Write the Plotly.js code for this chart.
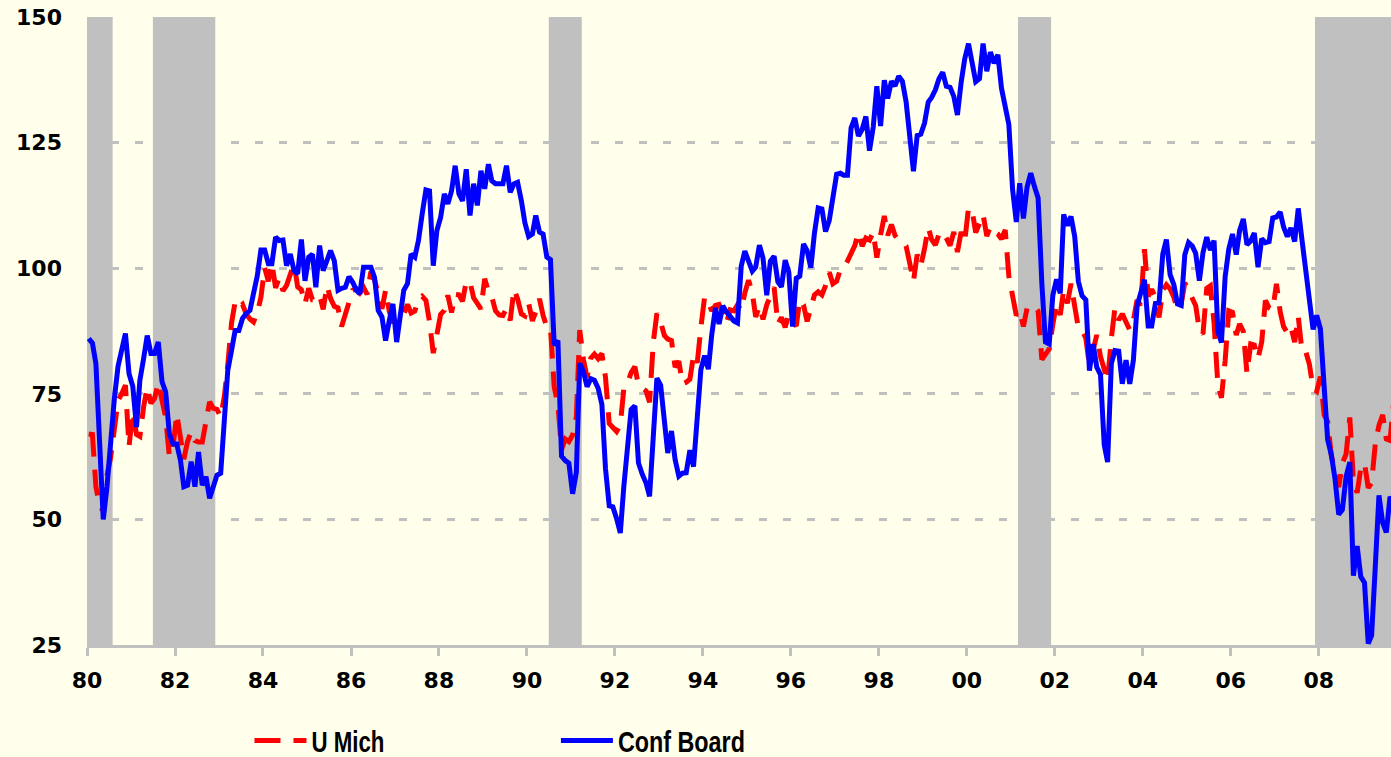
<!DOCTYPE html>
<html>
<head>
<meta charset="utf-8">
<script src="https://cdn.plot.ly/plotly-3.0.1.min.js"></script>
<style>
  html, body { margin: 0; padding: 0; background: #FFFFEB; }
  #chart { width: 1391px; height: 757px; }
</style>
</head>
<body>
<div id="chart"></div>
<script>
// ---------------- DATA ----------------
const startYear = 1980;   // first month of both series: Jan 1980 (monthly data)

// University of Michigan consumer sentiment, monthly
const uMich80s = [
  67.0, 66.9, 56.5, 52.7, 51.7, 58.7, 62.3, 67.3, 73.7, 75.0, 76.7, 64.5,
  71.4, 66.9, 66.5, 72.4, 76.3, 73.1, 74.1, 77.2, 73.1, 70.3, 62.5, 64.3,
  71.0, 66.5, 62.0, 65.5, 67.5, 65.7, 65.4, 65.4, 69.3, 73.4, 72.1, 71.9,
  70.4, 74.6, 80.8, 89.1, 93.3, 92.2, 92.8, 90.9, 89.9, 89.3, 91.1, 94.2,
  100.1, 97.4, 101.0, 96.1, 98.1, 95.5, 96.6, 99.1, 100.9, 96.3, 95.7, 92.9,
  96.0, 93.7, 93.7, 94.6, 91.8, 96.5, 94.0, 92.4, 92.1, 88.4, 90.9, 93.9,
  95.6, 95.9, 95.1, 96.2, 94.8, 99.3, 97.7, 94.9, 91.9, 95.6, 91.4, 89.1,
  90.4, 90.2, 90.8, 92.8, 91.1, 91.5, 93.7, 94.4, 93.6, 89.3, 83.1, 86.8,
  90.8, 91.6, 94.6, 91.2, 94.8, 94.7, 93.4, 97.4, 97.3, 94.1, 93.0, 91.9,
  97.9, 95.4, 94.3, 91.5, 90.7, 90.6, 92.0, 89.6, 95.8, 93.9, 90.9, 90.5
];
const uMich90s = [
  93.0, 89.5, 91.3, 93.9, 90.6, 88.3, 88.2, 76.4, 72.8, 63.9, 66.0, 65.5,
  66.8, 70.4, 87.7, 81.8, 78.3, 82.1, 82.9, 82.0, 83.0, 78.3, 69.1, 68.2,
  67.5, 68.8, 76.0, 77.2, 79.2, 80.4, 76.6, 76.1, 75.6, 73.3, 85.3, 91.0,
  89.3, 86.6, 85.9, 85.6, 80.3, 81.5, 77.0, 77.3, 77.9, 82.7, 81.2, 88.2,
  94.3, 93.2, 91.5, 92.6, 92.8, 91.2, 89.0, 91.7, 91.5, 92.7, 91.6, 95.1,
  97.6, 95.1, 90.3, 92.5, 89.8, 92.7, 94.4, 96.2, 88.9, 90.2, 88.2, 91.0,
  89.3, 88.5, 93.7, 92.7, 89.4, 92.4, 94.7, 95.3, 94.7, 96.5, 99.2, 96.9,
  97.4, 99.7, 100.0, 101.4, 103.2, 104.5, 107.1, 104.4, 106.0, 105.6, 107.2, 102.1,
  106.6, 110.4, 106.5, 108.7, 106.5, 105.6, 105.2, 104.4, 100.9, 97.4, 102.7, 100.5,
  103.9, 108.1, 105.7, 104.6, 106.8, 107.3, 106.0, 104.5, 107.2, 103.2, 107.2, 105.4
];
const uMich00s = [
  112.0, 111.3, 107.1, 109.2, 110.7, 106.4, 108.3, 107.3, 106.8, 105.8, 107.6, 98.4,
  94.7, 90.6, 91.5, 88.4, 92.0, 92.6, 92.4, 91.5, 81.8, 82.7, 83.9, 88.8,
  93.0, 90.7, 95.7, 93.0, 96.9, 92.4, 88.1, 87.6, 86.1, 80.6, 84.2, 86.7,
  82.4, 79.9, 77.6, 86.0, 92.1, 89.7, 90.9, 89.3, 87.7, 89.6, 93.7, 92.6,
  103.8, 94.4, 95.8, 94.2, 90.2, 95.6, 96.7, 95.9, 94.2, 91.7, 92.8, 97.1,
  95.5, 94.1, 92.6, 87.7, 86.9, 96.0, 96.5, 89.1, 76.9, 74.2, 81.6, 91.5,
  91.2, 86.7, 88.9, 87.4, 79.1, 84.9, 84.7, 82.0, 85.4, 93.6, 92.1, 91.7,
  96.9, 91.3, 88.4, 87.1, 88.3, 85.3, 90.4, 83.4, 83.4, 80.9, 76.1, 75.5,
  78.4, 70.8, 69.5, 62.6, 59.8, 56.4, 61.2, 63.0, 70.3, 57.6, 55.3, 60.1,
  61.2, 56.3, 57.3, 65.1, 68.7, 70.8, 66.0, 65.7, 73.5
];

// Conference Board consumer confidence, monthly
const confBoard80s = [
  86.0, 85.1, 81.0, 65.0, 50.0, 56.5, 66.0, 74.0, 80.5, 84.0, 87.0, 79.0,
  76.5, 68.4, 77.7, 82.0, 86.6, 83.0, 83.0, 85.3, 77.4, 75.4, 67.0, 65.0,
  65.0, 61.8, 56.5, 56.8, 61.5, 56.5, 63.4, 56.8, 58.5, 54.2, 56.5, 58.8,
  59.2, 70.4, 79.7, 83.6, 87.6, 87.6, 90.0, 91.0, 91.6, 95.0, 98.5, 103.6,
  103.6, 100.9, 100.9, 106.2, 105.5, 105.6, 100.5, 102.8, 99.5, 98.9, 105.7, 97.5,
  102.2, 102.8, 96.2, 104.5, 99.5, 101.5, 103.5, 101.5, 95.6, 96.0, 96.2, 98.3,
  97.2, 95.6, 94.9, 100.2, 100.2, 100.2, 98.2, 91.6, 90.3, 85.6, 89.6, 92.9,
  85.3, 90.9, 95.6, 96.9, 102.8, 102.2, 105.5, 110.8, 115.6, 115.4, 100.5, 107.5,
  110.1, 114.8, 112.8, 115.4, 120.4, 114.8, 113.4, 119.7, 110.5, 116.8, 112.5, 119.4,
  115.8, 120.7, 117.4, 116.8, 116.8, 116.8, 120.4, 115.1, 116.8, 117.1, 113.5, 109.0
];
const confBoard90s = [
  106.3, 106.8, 110.5, 107.2, 106.8, 102.2, 101.7, 84.7, 85.6, 62.6, 61.7, 61.2,
  55.1, 59.4, 81.1, 79.4, 76.4, 78.0, 77.7, 76.1, 72.9, 60.1, 52.7, 52.5,
  50.2, 47.3, 56.5, 65.1, 71.9, 72.6, 61.2, 59.0, 57.3, 54.6, 65.6, 78.1,
  76.7, 68.5, 63.2, 67.6, 61.9, 58.6, 59.2, 59.3, 63.8, 60.5, 71.9, 79.8,
  82.6, 79.9, 86.7, 92.1, 88.9, 92.5, 91.3, 90.4, 89.5, 89.1, 100.4, 103.4,
  101.4, 99.4, 100.2, 104.6, 102.0, 94.6, 101.4, 102.4, 97.3, 96.3, 101.6, 99.2,
  88.4, 98.0, 98.4, 104.8, 103.5, 100.1, 107.0, 112.0, 111.8, 107.3, 109.5, 114.2,
  118.7, 118.9, 118.5, 118.5, 127.9, 129.9, 126.3, 127.6, 130.2, 123.4, 128.1, 136.2,
  128.3, 137.4, 133.8, 137.2, 136.3, 138.2, 137.2, 133.1, 126.4, 119.3, 126.4, 126.7,
  128.9, 133.1, 134.0, 135.5, 137.7, 139.0, 136.2, 136.0, 134.2, 130.5, 137.0, 141.7
];
const confBoard00s = [
  144.7, 140.8, 137.1, 137.7, 144.7, 139.2, 143.0, 140.8, 142.5, 135.8, 132.6, 128.6,
  115.7, 109.2, 116.9, 109.9, 116.1, 118.9, 116.3, 114.0, 97.0, 85.3, 84.9, 94.6,
  97.8, 95.0, 110.7, 108.5, 110.3, 106.3, 97.4, 94.5, 93.7, 79.6, 84.9, 80.3,
  78.8, 64.8, 61.4, 81.0, 83.6, 83.5, 77.0, 81.7, 77.0, 81.7, 92.5, 94.8,
  97.7, 88.5, 88.5, 93.0, 93.1, 102.8, 105.7, 98.7, 96.7, 92.9, 92.6, 102.7,
  105.1, 104.4, 103.0, 97.5, 103.1, 106.2, 103.6, 105.5, 87.5, 85.2, 98.3, 103.8,
  106.8, 102.7, 107.5, 109.8, 104.7, 105.4, 107.0, 100.2, 105.9, 105.1, 105.3, 110.0,
  110.2, 111.2, 108.2, 106.3, 108.0, 105.3, 111.9, 105.6, 99.5, 95.2, 87.8, 90.6,
  87.9, 76.4, 65.9, 62.8, 58.1, 51.0, 51.9, 58.5, 61.4, 38.8, 44.7, 38.6,
  37.4, 25.3, 26.9, 40.8, 54.8, 49.3, 47.4, 54.5, 53.4
];

// NBER recessions (first month, last month) shown as grey bands
const recessions = [
  ['1980-01', '1980-07'],
  ['1981-07', '1982-11'],
  ['1990-07', '1991-03'],
  ['2001-03', '2001-11'],
  ['2007-12', '2009-09']
];

const seriesNames = ['U Mich', 'Conf Board'];
const yTicks = [25, 50, 75, 100, 125, 150];

// ---------------- BUILD ----------------
const uMich = uMich80s.concat(uMich90s, uMich00s);
const confBoard = confBoard80s.concat(confBoard90s, confBoard00s);

function pad(n) { return (n < 10 ? '0' : '') + n; }
function monthDates(count) {
  const out = [];
  for (let i = 0; i < count; i++) {
    const y = startYear + Math.floor(i / 12);
    const m = (i % 12) + 1;
    out.push(y + '-' + pad(m) + '-15');   // plotted mid-month
  }
  return out;
}
function nextMonthStart(ym) {
  let y = +ym.slice(0, 4), m = +ym.slice(5, 7) + 1;
  if (m > 12) { m = 1; y += 1; }
  return y + '-' + pad(m) + '-01';
}

const tickFont = { family: 'DejaVu Sans, Verdana, sans-serif', size: 22, color: '#000000', weight: 'bold' };
const legendFont = { family: 'Liberation Sans, Arial, sans-serif', size: 30, color: '#000000', weight: 'bold' };

const traces = [
  {
    type: 'scatter', mode: 'lines', name: seriesNames[0],
    x: monthDates(uMich.length), y: uMich,
    line: { color: '#FF0000', width: 5, dash: '26px,13px' },
    legend: 'legend',
    hoverinfo: 'skip'
  },
  {
    type: 'scatter', mode: 'lines', name: seriesNames[1],
    x: monthDates(confBoard.length), y: confBoard,
    line: { color: '#0000FF', width: 5 },
    legend: 'legend2',
    hoverinfo: 'skip'
  }
];

const shapes = recessions.map(r => ({
  type: 'rect', xref: 'x', yref: 'paper',
  x0: r[0] + '-01', x1: nextMonthStart(r[1]), y0: 0, y1: 1,
  fillcolor: '#C0C0C0', line: { width: 0 }, layer: 'below'
}));

function legendAt(xFrac) {
  return {
    orientation: 'h',
    x: xFrac, xanchor: 'left',
    y: -0.152, yanchor: 'middle',
    bgcolor: 'rgba(0,0,0,0)',
    borderwidth: 0,
    itemwidth: 52,
    font: legendFont
  };
}

const layout = {
  width: 1391, height: 757,
  margin: { l: 87, r: 0, t: 17, b: 112, autoexpand: false },
  paper_bgcolor: '#FFFFEB',
  plot_bgcolor: '#FFFFEB',
  showlegend: true,
  legend: legendAt(0.1246),
  legend2: legendAt(0.3596),
  xaxis: {
    type: 'date',
    range: ['1980-01-01', '2009-08-23'],
    tick0: '1980-01-01', dtick: 'M24', tickformat: '%y',
    showgrid: false, zeroline: false,
    showline: true, linecolor: '#C0C0C0', linewidth: 3,
    ticks: 'outside', ticklen: 8, tickwidth: 3, tickcolor: '#C0C0C0',
    ticklabelstandoff: 6,
    tickfont: tickFont
  },
  yaxis: {
    range: [25, 150],
    tickvals: yTicks,
    showgrid: true, gridcolor: '#C0C0C0', gridwidth: 3, griddash: '8px,16px',
    zeroline: false, showline: false, ticks: '',
    ticklabelstandoff: 24,
    tickfont: tickFont
  },
  shapes: shapes
};

// the reference legend uses a narrow bold face; compress the legend labels to that width
const legendTextWidths = { 'U Mich': 73, 'Conf Board': 127 };

function narrowLegendText() {
  document.querySelectorAll('#chart svg text').forEach(t => {
    const key = (t.textContent || '').replace(/\s+/g, ' ').trim();
    const w = legendTextWidths[key];
    if (w && t.getAttribute('textLength') !== String(w)) {
      t.setAttribute('textLength', w);
      t.setAttribute('lengthAdjust', 'spacingAndGlyphs');
    }
  });
}

const gdEl = document.getElementById('chart');
new MutationObserver(narrowLegendText).observe(gdEl, { childList: true, subtree: true, characterData: true });
Plotly.newPlot(gdEl, traces, layout, { displayModeBar: false, staticPlot: true }).then(gd => {
  narrowLegendText();
  gd.on('plotly_afterplot', narrowLegendText);
  setTimeout(narrowLegendText, 0);
  setTimeout(narrowLegendText, 100);
});
</script>
</body>
</html>
